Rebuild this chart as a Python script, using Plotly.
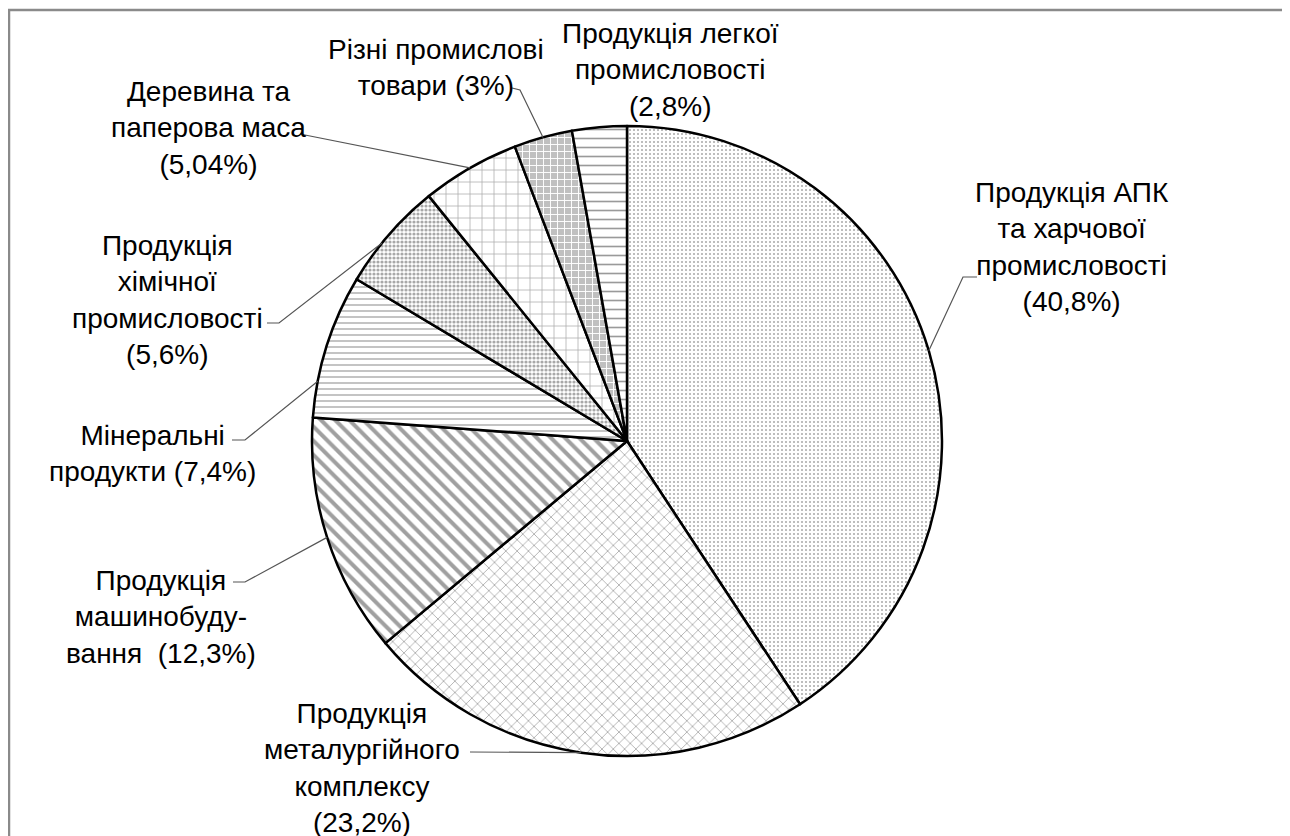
import math
import plotly.graph_objects as go

# ---- data ----
categories = [
    "Продукція АПК та харчової промисловості",
    "Продукція металургійного комплексу",
    "Продукція машинобудування",
    "Мінеральні продукти",
    "Продукція хімічної промисловості",
    "Деревина та паперова маса",
    "Різні промислові товари",
    "Продукція легкої промисловості",
]
values = [40.8, 23.2, 12.3, 7.4, 5.6, 5.04, 3, 2.8]
label_texts = [
    "Продукція АПК<br>та харчової<br>промисловості<br>(40,8%)",
    "Продукція<br>металургійного<br>комплексу<br>(23,2%)",
    "Продукція<br>машинобуду-<br>вання  (12,3%)",
    "Мінеральні<br>продукти (7,4%)",
    "Продукція<br>хімічної<br>промисловості<br>(5,6%)",
    "Деревина та<br>паперова маса<br>(5,04%)",
    "Різні промислові<br>товари (3%)",
    "Продукція легкої<br>промисловості<br>(2,8%)",
]

# ---- layout constants (page pixels; figure sits 8px in from page edge) ----
OFF = 8
W, H = 1282, 828
CX, CY, R = 627, 441, 315
FONT = "Liberation Sans, Arial, sans-serif"
FS = 28

def px(x):
    return (x - OFF) / W

def py(y):
    return 1 - (y - OFF) / H

patterns = [
    dict(shape=".", size=4, solidity=0.2, fgcolor="#a8a8a8", bgcolor="white"),
    dict(shape="x", size=8, solidity=0.18, fgcolor="#a0a0a0", bgcolor="white"),
    dict(shape="\\", size=10, solidity=0.4, fgcolor="#a0a0a0", bgcolor="white"),
    dict(shape="-", size=6, solidity=0.25, fgcolor="#b0b0b0", bgcolor="white"),
    dict(shape=".", size=4, solidity=0.5, fgcolor="#a8a8a8", bgcolor="white"),
    dict(shape="+", size=12, solidity=0.12, fgcolor="#aaaaaa", bgcolor="white"),
    dict(shape="+", size=7, solidity=0.25, fgcolor="white", bgcolor="#c0c0c0"),
    dict(shape="-", size=9, solidity=0.18, fgcolor="#9a9a9a", bgcolor="white"),
]

fig = go.Figure(go.Pie(
    labels=categories,
    values=values,
    sort=False,
    direction="clockwise",
    rotation=0,
    textinfo="none",
    hoverinfo="label+percent",
    marker=dict(
        colors=["white"] * len(values),
        line=dict(color="black", width=2.5),
        pattern=dict(
            shape=[p["shape"] for p in patterns],
            size=[p["size"] for p in patterns],
            solidity=[p["solidity"] for p in patterns],
            fgcolor=[p["fgcolor"] for p in patterns],
            bgcolor=[p["bgcolor"] for p in patterns],
            fillmode="replace",
        ),
    ),
    domain=dict(x=[px(CX - R), px(CX + R)], y=[py(CY + R), py(CY - R)]),
    showlegend=False,
))

label_pos = [(1072, 247), (362, 768), (161, 617), (152, 454),
             (167, 300), (209, 128), (436, 68), (671, 70)]
leader_start = [
    [(977, 277), (963, 277)],
    [(470, 752)],
    [(233, 582), (245, 582)],
    [(232, 440), (245, 440)],
    [(267, 323), (279, 323)],
    [(300, 134)],
    [(512, 88), (520, 90)],
    None,
]
leader_frac = [0.5, 0.5, 0.5, 0.25, 0.4, 0.5, 0.5, 0.5]

total = sum(values)
cum = 0.0
shapes = []
annotations = []
for i, v in enumerate(values):
    theta = 2 * math.pi * (cum + leader_frac[i] * v) / total
    cum += v
    ex = CX + R * math.sin(theta)
    ey = CY - R * math.cos(theta)
    if leader_start[i]:
        pts = leader_start[i] + [(ex, ey)]
        path = "M " + " L ".join(f"{px(x):.5f},{py(y):.5f}" for x, y in pts)
        shapes.append(dict(type="path", xref="paper", yref="paper", path=path,
                           line=dict(color="#555555", width=1.2)))
    lx, ly = label_pos[i]
    annotations.append(dict(
        x=px(lx), y=py(ly), xref="paper", yref="paper",
        text=label_texts[i], showarrow=False, align="center",
        xanchor="center", yanchor="middle",
        font=dict(family=FONT, size=FS, color="black"),
    ))

shapes.append(dict(type="rect", xref="paper", yref="paper",
                   x0=px(9), x1=px(1286), y0=py(870), y1=py(10),
                   line=dict(color="#8a8a8a", width=2.5), layer="below"))

fig.update_layout(
    width=W, height=H,
    margin=dict(l=0, r=0, t=0, b=0),
    paper_bgcolor="white", plot_bgcolor="white",
    shapes=shapes, annotations=annotations,
)

fig.write_html("out.html")
